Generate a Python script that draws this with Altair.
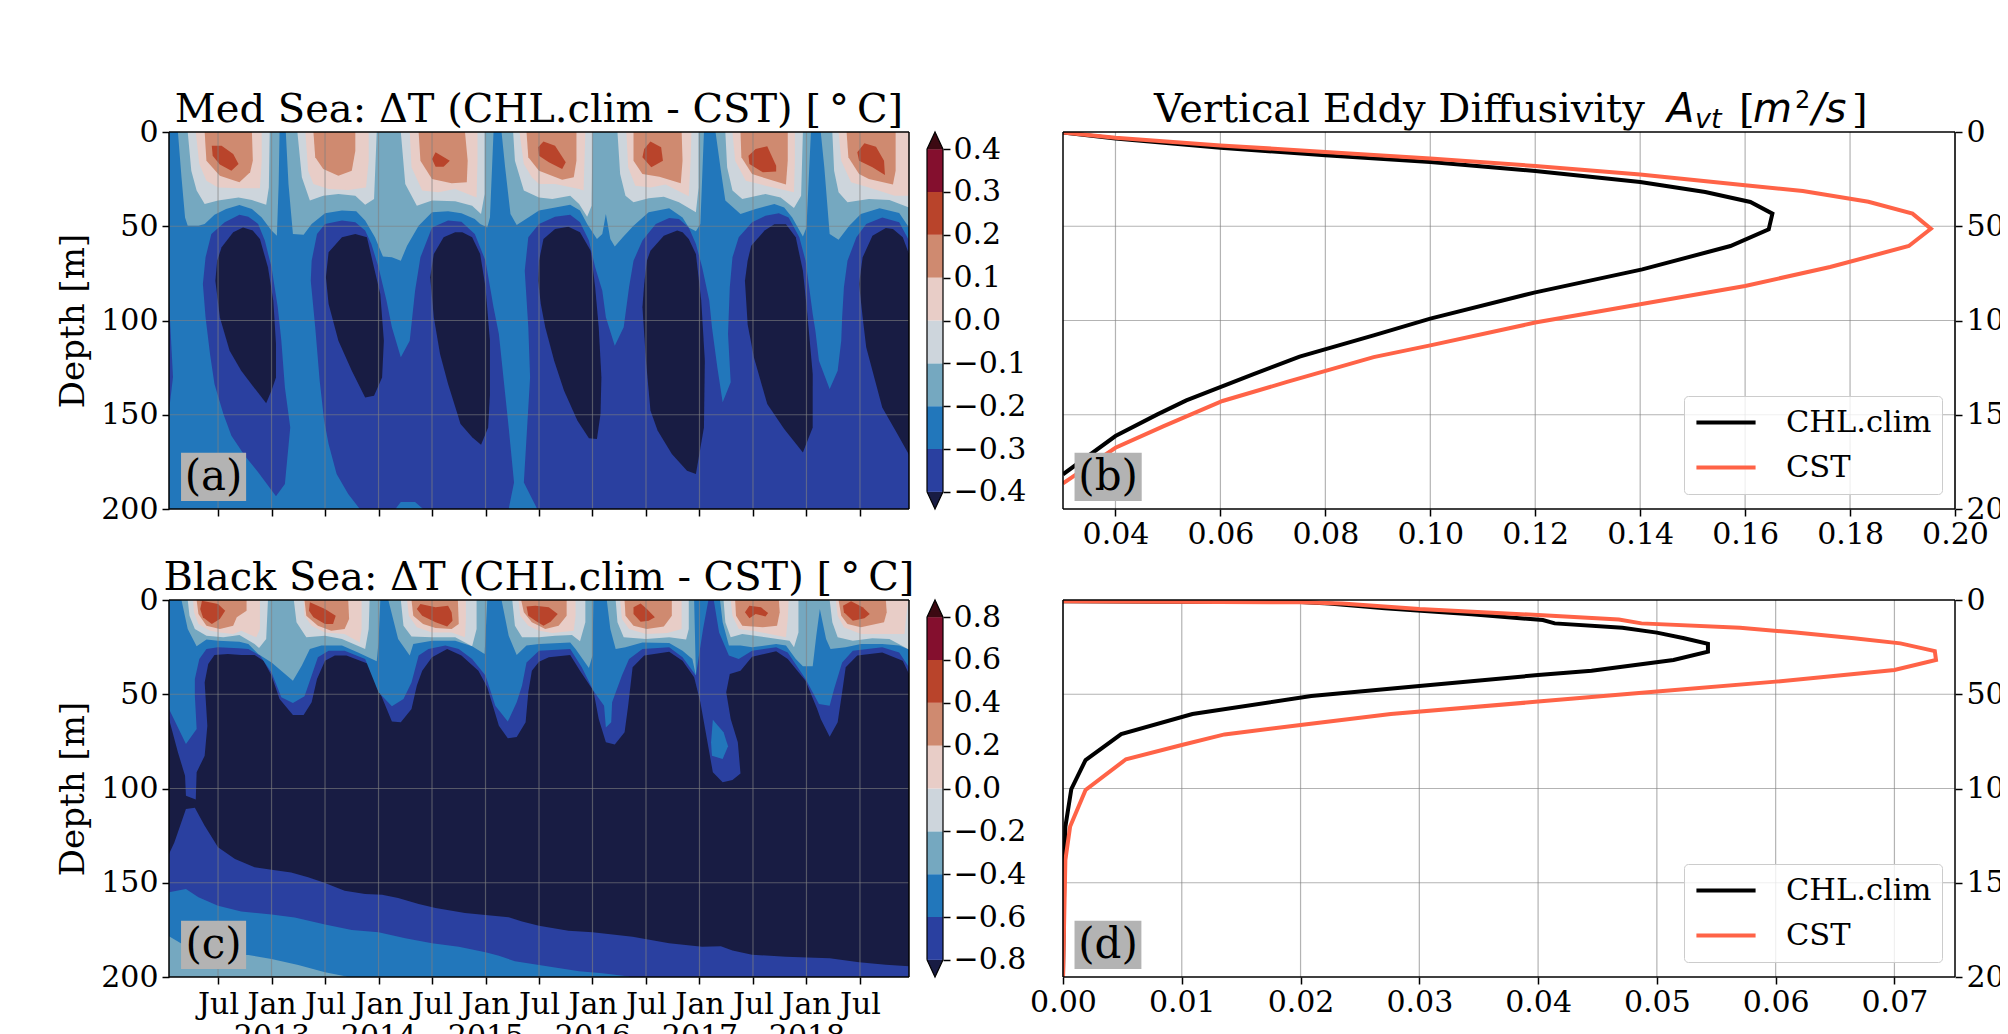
import altair as alt
import pandas as pd

SERIF = "DejaVu Serif"
MATH = "DejaVu Sans"
BANDS = ["b0", "b1", "b2", "b3", "b4", "b5", "b6", "b7", "b8", "b9"]
COLORS = ["#181c43", "#2a40a0", "#2277bb", "#75a8c0", "#cdd5dc", "#e8cdc7", "#cf8a70", "#b9442b", "#840f2e", "#3c0912"]

# Panel (a): contour regions as (months since Jan 2012, depth in m)
A_EDGE = [(0,89.5),(0.45,130),(0,148)]
A_DB1 = [(7.9,43.9),(6.25,47.9),(4.75,54.1),(4.1,66.5),(3.8,80.6),(4.1,98.3),(4.6,117.8),(5.1,133.7),(6.1,149.6),(7,161.1),(8.5,171.7),(10,180.5),(12,193.3),(13,186.7),(13.6,156.7),(13,135.5),(12.6,110.7),(12.2,93),(11.5,71.8),(10.75,57.6),(10,48.8),(8.9,44.9)]
A_DB2 = [(19.4,47),(17.5,48.8),(16.6,54.1),(16,68.3),(15.9,78.9),(16.4,103.6),(16.9,131.9),(17.4,153.1),(17.9,165.5),(18.8,181.4),(20.1,192),(21.4,200),(25.4,200),(26,196.3),(27.6,196.3),(28.5,200),(38.1,200),(38.7,185.9),(38.1,156.7),(37,107.2),(36.4,93),(35.5,68.3),(34.3,54.1),(32.8,47.6),(31.3,47),(29.5,50.6),(28.2,66.5),(27.6,84.2),(27,110.7),(26,119.5),(25,103.6),(24.4,89.5),(23.5,71.8),(22.7,59.4),(22,52.3),(20.9,47.9)]
A_DB3 = [(41.3,200),(39.8,185.9),(40.5,130.2),(40.3,103.6),(39.9,73.6),(40.3,55.9),(41.5,48.8),(43.3,44.9),(45,43.9),(46.1,47.9),(47.1,57.6),(47.8,71.8),(48.6,84.2),(49,98.3),(50,113.4),(51,103.6),(51.6,82.4),(52.1,68.3),(53.1,57.6),(54.6,48.8),(56.1,45.6),(57.2,46.2),(58.3,50.6),(59.1,59.4),(59.8,71.8),(60.6,89.5),(60.9,103.6),(61.5,124.8),(62.1,143.4),(63,132.8),(62.7,107.2),(62.9,82.4),(63.2,66.5),(63.9,55.9),(65.4,47.9),(66.9,44.4),(68.4,43.1),(69.5,45.3),(70.7,55.9),(71.4,68.3),(71.8,82.4),(72.2,96.6),(72.5,105.4),(72.9,121.3),(74.1,136.3),(75,126.6),(75.4,110.7),(75.5,98.3),(75.7,82.4),(76.1,68.3),(77.1,55.9),(78.2,48.8),(80,45.3),(81.9,47.9),(83,57.6),(83,200)]
A_N1 = [(8.3,50.6),(7.2,53.2),(5.9,61.2),(5.4,68.3),(5.2,78.9),(5.7,98.3),(6.8,116),(8.1,126.6),(9.8,137.2),(10.9,143.9),(11.5,137.2),(12,130.2),(12,112.5),(11.7,89.5),(11.1,71.8),(10.2,56.8),(9.4,52.3)]
A_N2 = [(20.9,54.1),(19.4,55.9),(17.9,63.8),(17.6,77.1),(17.9,91.2),(19,110.7),(20.5,126.6),(22,140.8),(23,139.9),(23.9,130.2),(24.1,110.7),(23.7,85.9),(22.9,70),(22.2,55.9)]
A_N3 = [(32.1,53.2),(30.8,55.9),(29.7,64.7),(29.3,77.1),(29.7,98.3),(30.4,117.8),(31.3,133.7),(32.7,154.9),(34,162),(35,165.9),(35.8,156.7),(36,139),(36,110.7),(35.5,82.4),(34.9,64.7),(34,55.9),(32.9,53.2)]
A_N4 = [(44.8,50.2),(43.3,51.5),(42,56.8),(41.5,68.3),(41.4,78.9),(41.7,91.2),(42.2,103.6),(43.2,121.3),(44.3,137.2),(45.8,153.1),(47.1,162.5),(48,162.9),(48.4,149.6),(48.5,130.2),(48.2,103.6),(47.8,82.4),(47.3,63),(46.1,53.2)]
A_N5 = [(57,52.3),(55.5,55),(54,63),(53.6,68.3),(53.3,80.6),(53.1,93),(53.5,121.3),(54,147.8),(54.8,158.4),(56.4,170.8),(58.1,179.7),(59.1,181.4),(60,156.7),(60.1,121.3),(59.7,89.5),(59.1,64.7),(58.3,56.8),(57.6,53.2)]
A_N6 = [(67.9,49),(66.8,52.3),(65.3,60.3),(64.9,68.3),(64.6,78.9),(64.9,102),(65.6,119.5),(67.1,144.3),(69,157.6),(71.1,170),(72.2,156.7),(72.2,128.4),(71.6,96.6),(71.1,73.6),(70.3,55.9),(69.2,49)]
A_N7 = [(80.4,50.9),(78.9,55),(77.8,66.5),(77.4,80.6),(77.8,98.3),(78.2,114.2),(80,146.1),(81.7,160.2),(83,171.2),(83,64.7),(82.3,55.9),(81.2,51.5)]
A_L1 = [(1,0),(1.4,24),(1.8,45.3),(2.1,49.7),(3.3,49.7),(4,48.8),(5.1,43.9),(6.4,40.8),(7.9,38.7),(9.3,40.8),(10.4,45.3),(11.5,52.3),(12.1,55),(12.3,27.6),(12.4,0)]
A_L2 = [(13.1,0),(13.4,27.6),(13.9,54.1),(15.1,54.5),(16,48.8),(17.5,43.1),(19.4,41.7),(21,42.1),(22,47),(23.1,55.9),(24,66.1),(25,66.5),(26,68.3),(26.7,60.3),(28,49.7),(29.5,42.6),(31.3,42.1),(32.8,43.1),(34.3,46.2),(34.9,48.8),(35.7,50.6),(36,45.3),(36.4,0)]
A_L3 = [(37.3,0),(37.7,18.7),(38.3,43.5),(39,49.3),(40.3,45.3),(41.5,41.7),(45,38.6),(46.1,41.7),(46.9,48.8),(48,56.8),(48.6,54.1),(49,43.5),(49.5,56.8),(50,60.8),(50.9,55.9),(52.1,49.7),(53.8,42.6),(56.1,40.5),(57.6,45.3),(58.3,50.6),(59.1,52.7),(59.6,48.8),(60,0)]
A_L4 = [(61.3,0),(61.9,20.5),(62.4,36.4),(64.1,43.5),(65.8,40.8),(67.9,38.2),(69,40),(69.9,45.3),(71.1,55.5),(71.5,50.6),(72,0)]
A_L5 = [(73.1,0),(73.5,18.7),(74.1,54.1),(75.1,57.1),(76.3,49.7),(77.6,43.5),(79.7,40.5),(81.9,43),(83,50.6),(83,0)]
A_G = [
 [(2.1,0),(2.5,20.5),(3.1,31.1),(4,38.2),(5.5,36.4),(7.8,34.7),(9.3,36.1),(10.9,38.6),(11.2,29.4),(11.3,0)],
 [(14.4,0),(14.9,24),(15.8,36.4),(17.3,33.8),(19,32.9),(20.9,33.8),(22,38.6),(23,35.5),(23.3,0)],
 [(26,0),(26.5,27.6),(27.8,39.1),(29.5,36.4),(32.1,36.8),(34,39.1),(35,43.5),(35.4,32.9),(35.4,0)],
 [(38.6,0),(38.8,15.2),(39.8,31.1),(41.5,34.7),(43,35.5),(45,33.8),(46,38.2),(46.9,44.9),(47.4,39.1),(47.5,0)],
 [(50.3,0),(50.6,22.3),(51.2,33.8),(52.1,37.3),(53.8,35.2),(55.5,34.3),(57.2,37.3),(59.1,42.6),(59.4,29.4),(59.4,0)],
 [(62.4,0),(62.6,18.7),(63.2,31.1),(64.3,35.5),(66.9,32.9),(68.6,34.7),(70.1,40.3),(70.9,33.8),(71.1,0)],
 [(74.4,0),(74.6,20.5),(75.1,32),(76.1,37.3),(78.5,35.5),(80.8,36.1),(83,40),(83,0)],
]
A_P = [
 [(3,0),(3.4,17),(4.2,25.8),(5.5,29.4),(7.9,29.9),(10.2,29.9),(10.4,15.2),(10.4,0)],
 [(15.3,0),(15.6,20.5),(16.2,27.6),(17.9,30.2),(20.1,30.8),(22.1,29.4),(22.4,15.2),(22.4,0)],
 [(27,0),(27.2,18.7),(28.4,31.1),(30.2,32),(32.1,30.2),(34.5,34.7),(34.6,15.2),(34.6,0)],
 [(39.3,0),(39.8,17),(40.7,24),(41.5,27.6),(43.3,27.6),(46,30.2),(46.5,31.1),(46.7,0)],
 [(51.3,0),(51.5,18.7),(52.3,28.5),(54,29.4),(55.7,27.9),(58.3,34.1),(58.5,15.2),(58.6,0)],
 [(63.2,0),(63.5,15.2),(64.7,25.8),(66.9,28.5),(70.1,32),(70.2,15.2),(70.2,0)],
 [(75.1,0),(75.4,15.2),(76.5,26.7),(78.5,29.4),(81.4,33.8),(83,33.8),(83,0)],
]
A_O = [
 [(4,0),(4.2,15.2),(5.7,23.2),(7.9,26.7),(9.1,21.4),(9.4,15.2),(9.3,0)],
 [(16.2,0),(16.4,13.4),(17.3,19.6),(19,23.2),(20.5,20.5),(20.9,9.9),(20.9,0)],
 [(28,0),(28.2,15.2),(29.5,24.9),(31.7,27.2),(33.4,26.7),(33.5,15.2),(33.2,0)],
 [(40.1,0),(40.3,13.4),(41.5,20.5),(44.1,25.3),(45.4,24),(45.7,15.2),(45.7,0)],
 [(52.1,0),(52.1,15.2),(53.1,22.3),(55,23.7),(57.4,27.2),(57.6,15.2),(57.5,0)],
 [(64.1,0),(64.2,13.4),(65.4,22.3),(69.2,27.9),(69.4,15.2),(69.4,0)],
 [(76,0),(76.2,13.4),(77.4,22.3),(78.5,24.9),(81.2,27.9),(81.5,20.5),(81.5,0)],
]
A_R = [
 [(4.8,7.3),(5.9,7.3),(7.2,11.7),(7.8,17),(7,20.5),(5.7,17.3),(4.9,12.6)],
 [(29.9,10.8),(31.5,15.2),(30.8,18.4),(29.9,18.4),(29.5,14.3)],
 [(42,5),(43.3,7.3),(44.5,16.1),(44.1,19.6),(42.6,16.1),(41.5,12.6),(41.4,8.1)],
 [(54,5),(55.2,8.1),(55.4,15.2),(54.1,18.7),(53.1,13.4),(53.3,9)],
 [(67.1,7.6),(68.1,17.9),(68.1,21),(66.6,21.4),(65.1,17),(65,12.6),(65.8,9)],
 [(78,6),(79.3,7.8),(80.2,15.2),(80.3,22.8),(78.9,18.7),(77.4,15.2),(77.2,10.8)],
]

# Panel (c)
C_DB_LOW = [(0,134.8),(0.6,128.6),(1.9,110.9),(2.9,110.2),(4,119.7),(5.5,131.2),(7.4,137.4),(9.6,141.8),(11.5,143.1),(13.7,144.5),(15.6,147.1),(17.5,150.1),(19.7,154.2),(22,156),(23.9,156.3),(25.7,158.1),(28,161.3),(29.9,163.4),(33.2,166),(35.5,167.1),(38.1,168.3),(39.6,170.6),(41.5,172.8),(44.8,175.4),(47.5,176.3),(52,178.6),(56.1,182.1),(59.8,183.9),(61.9,183.7),(63.2,186),(65.4,188.2),(69.2,189.2),(74.1,190.1),(77.4,192.2),(80.4,193.5),(83,194.3),(83,200),(0,200)]
C_BL_LOW = [(0,155.1),(1.9,153.3),(3.3,157.7),(5.5,162.2),(8.1,165.3),(11.5,166.9),(14.1,168.4),(17.5,172.2),(20.5,175.1),(23.5,176.3),(26.5,179.5),(29.5,182.1),(32.5,183.9),(35.5,186.9),(37,188.7),(38.8,191.7),(41.5,193.6),(46,197),(48.6,198),(51.6,199.8),(51.6,200),(0,200)]
C_LB_LOW = [(0,178.4),(1.8,183.4),(3.6,187.3),(6.3,188.2),(8.9,188.3),(11.5,190.4),(14.5,193.6),(17.5,197.5),(19.9,199.8),(19.9,200),(0,200)]
C_DB_TOP = [(0,0),(0,63.1),(1,80.8),(1.8,93.2),(1.9,103.8),(3,105.9),(3.1,91.4),(4,82.6),(4.3,66.7),(4,43.7),(4.4,34),(5.1,29.2),(6.6,28.6),(8.1,29.2),(9.6,29.2),(10.6,32.2),(11.5,40.1),(12.4,52.5),(13.9,61),(15.1,61),(16,54.3),(16.6,41.9),(17.5,32.2),(18.6,29.5),(19.9,29.5),(22.4,34),(23.5,47.2),(25,64.5),(26,64.9),(27.2,57.8),(27.8,45.4),(28.4,37.5),(29.5,30.4),(31.2,26),(32.8,29.5),(34.7,37.5),(35.7,46.3),(37,66.7),(38,73.4),(39,72.7),(40,64.9),(40.3,49),(40.7,37.5),(41.5,32.7),(42.6,30.4),(45,29.2),(46.1,37.5),(47.6,48.1),(48.2,63.1),(49,75.5),(50,76.7),(51.1,70.2),(51.5,56.1),(52,35.7),(53.3,29.5),(56.1,27.4),(57.6,32.2),(58.9,41),(59.6,54.3),(60.6,80.8),(61,91.4),(62.1,96.7),(63.2,95.5),(64.1,92),(63.8,75.5),(63,63.1),(62.5,49),(62.9,39.3),(64.1,37.5),(65.4,30.1),(68.1,27.2),(69.4,31.3),(71.4,42.8),(72.7,57.8),(73.1,63.1),(74.1,72.5),(75,64.9),(75.5,49),(75.9,35.7),(77.2,29.5),(80,27.8),(82.3,32.2),(83,39.3),(83,0)]
C_BL1 = [(0,0),(0,57.8),(1.9,76.4),(3.1,68.4),(2.9,50.8),(2.9,41.9),(3.4,31.3),(4.2,26),(5.5,25.1),(7.8,25.6),(8.9,26),(10.2,29.5),(11.5,38.4),(12.6,51.6),(13.9,54.6),(15.2,51.1),(16,40.1),(16.7,30.4),(17.9,26.9),(19.7,26.9),(22,31.3),(23.5,49),(25,56.4),(26.3,52.5),(27.2,43.7),(28,29.5),(29.1,26),(31,24.2),(32.5,26),(34,31.3),(35.5,40.1),(36.6,56.1),(38,64.5),(39,54.3),(39.6,45.4),(40.1,33.1),(41.5,26.9),(45,26),(46.3,35.7),(47.6,48.1),(48.8,56.1),(49,67.6),(49.6,64.9),(49.7,54.3),(50.8,40.1),(51.6,31.3),(53.1,26),(56.1,25.1),(57.6,30.4),(59.1,40.1),(59.9,15.4),(60.5,0)]
C_BL2 = [(61.1,0),(61.7,17.2),(62.8,29.5),(63.9,31.3),(65.4,26.9),(68.1,25.1),(69.4,27.8),(71.4,41.9),(72.9,55.2),(74.1,56.1),(74.6,47.2),(75.5,33.1),(76.7,26.9),(80,25.1),(81.9,27.8),(83,35.7),(83,0)]
C_ISLE = [(61,63.5),(62.2,70.2),(62.7,77.6),(62.1,84.4),(60.9,82.6),(60.8,75.5)]
C_L = [
 [(1.4,0),(2.1,15.4),(3.1,24.6),(4.2,21),(5.5,21.6),(7.9,22.1),(8.9,23.3),(10,28.6),(11.5,33.1),(13.9,42.8),(14.9,34.8),(15.8,26),(17.1,24.2),(19.4,24.2),(21.2,27.8),(23.3,32.5),(23.5,22.5),(23.7,0)],
 [(24.6,0),(25.7,20.7),(27,29.5),(27.4,23.3),(29.5,21.6),(32.1,21.6),(34,24.6),(35.4,28.6),(35.7,0)],
 [(37.3,0),(38.1,18.9),(39,29.2),(40.1,24.2),(41.5,23.3),(45,22.5),(45.6,26),(47.1,36.1),(47.5,29.5),(47.6,0)],
 [(49.1,0),(49.5,15.4),(50.1,26),(51.2,25.1),(53.1,22.5),(56.1,22.8),(57.6,26.9),(58.7,31.3),(59.1,40.1),(58.9,0)],
 [(61.8,0),(62.1,11.8),(62.8,24.2),(64.1,24.2),(65.4,25.1),(68.1,23.3),(69.2,24.2),(70.3,31.3),(71.1,35.2),(72.2,35.2),(72.6,18.9),(73,4.8),(73.7,20.7),(74.2,26),(75.9,25.1),(77.6,23.3),(80,23.3),(81.9,24.2),(83,26.3),(83,0)],
]
C_G = [
 [(2.1,0),(2.3,8.3),(2.9,15.4),(4.2,18.9),(6.1,19.8),(7.9,18.6),(9.6,23.3),(10.1,25.5),(10.9,20.7),(11.1,0)],
 [(14,0),(14.3,11.8),(15.4,19.8),(17.5,18.9),(19.4,20.7),(22,26),(22.4,15.4),(22.5,0)],
 [(26,0),(26.3,13.6),(27.2,19.3),(29.5,19.8),(32.1,19.8),(34,24.6),(34.5,15.4),(34.5,0)],
 [(38.5,0),(38.8,13.6),(39.6,19.8),(41.5,19.8),(43.3,18.9),(45.2,18.6),(46.1,21.9),(46.7,11.8),(46.7,0)],
 [(50.1,0),(50.3,11.8),(51,19.8),(53.5,20.7),(56.1,19.8),(58,21),(58.3,15.4),(58.3,0)],
 [(62.2,0),(62.4,11.8),(63,19.8),(64.3,18),(66.9,19.8),(69.6,21.6),(70.1,25.1),(70.6,17.2),(70.6,0)],
 [(74.1,0),(74.4,11.8),(75,19.8),(76.7,21.6),(78.9,20.3),(80.8,20.7),(83,26.3),(83,0)],
]
C_P = [
 [(2.7,0),(2.8,6.5),(3.3,12.7),(4.6,16.3),(5.7,17.2),(7.2,18),(8.1,16.3),(9.8,19.8),(10.2,15.4),(10.2,0)],
 [(15.1,0),(15.2,8.3),(16,13.6),(17.5,17.2),(19.7,18),(21.4,22.5),(21.6,15.4),(21.6,0)],
 [(26.7,0),(26.9,8.3),(27.8,14.5),(29.5,17.2),(31.7,17.2),(33.2,19.8),(33.3,10.1),(33.3,0)],
 [(39.2,0),(39.4,8.3),(40.3,13.6),(41.5,16.3),(43,17.5),(45.4,16.3),(45.6,8.3),(45.6,0)],
 [(50.6,0),(50.8,10.1),(51.6,15.4),(53.5,18),(55.9,17.5),(57.5,15.4),(57.5,0)],
 [(63,0),(63.2,8.3),(63.9,15.4),(65.8,16.6),(69.2,19.8),(69.4,10.1),(69.5,0)],
 [(74.8,0),(75,8.3),(75.7,14.5),(77.6,18),(80.4,18),(82.5,18),(82.7,8.3),(82.9,0)],
]
C_O = [
 [(3.1,0),(3.3,7.4),(4.2,13.6),(5.7,15.4),(7.2,13.6),(7.6,9.2),(8.7,5.7),(8.7,0)],
 [(15.2,0),(15.4,8.3),(16.7,13.6),(18.2,16.3),(19.7,15.4),(20.2,10.1),(20.1,0)],
 [(27.2,0),(27.4,8.3),(28.5,12.7),(29.9,14.9),(31.7,15.4),(32.5,12.7),(32.4,0)],
 [(39.5,0),(39.8,6.5),(40.7,11.8),(41.5,13.6),(42.2,15.4),(43.7,13.6),(44.6,8.3),(44.6,0)],
 [(51.1,0),(51.2,8.3),(52.1,13.6),(53.6,15.4),(55.5,14.1),(56.4,8.3),(56.4,0)],
 [(63.5,0),(63.6,8.3),(64.3,13.6),(66.6,14.5),(68.2,13.6),(68.5,6.5),(68.4,0)],
 [(75.1,0),(75.4,8.3),(76.1,12.7),(77.6,14.5),(80.2,11.8),(80.5,6.5),(80.4,0)],
]
C_R = [
 [(3.7,0.4),(5.5,2.1),(6.3,5.7),(5.7,10.1),(4.8,12.7),(3.8,9.2),(3.5,4.8)],
 [(15.8,1.2),(17.5,4.8),(18.7,8.3),(18.4,12.7),(17.5,12.7),(16.2,9.2),(15.7,5.7)],
 [(28.2,2.1),(29.9,3.9),(31.3,3),(31.7,6.5),(31.8,11),(31.2,14),(29.9,11.8),(28.4,8.3),(27.8,4.8)],
 [(40.1,3.4),(41.1,3),(42.6,3.9),(43.6,7.4),(42.8,11.5),(42,13.6),(41.1,11),(40.3,8.3)],
 [(52.9,1.8),(53.6,4.8),(54.5,9.2),(53.8,11),(52.9,11.5),(52.1,7.4),(52.1,3.9)],
 [(65.1,3),(66.4,3.9),(67.2,6.9),(66.9,8.7),(65.8,7.4),(65.1,9.7),(64.6,6.5)],
 [(76.5,0.7),(77.8,3.9),(78.6,7.4),(78,9.7),(76.7,11),(75.7,6.5),(75.6,3)],
]
FULL = [(0,0),(83,0),(83,200),(0,200)]

# Line profiles: (diffusivity, depth)
B_CHL = [(0.03,0.3),(0.04,3.5),(0.06,8.3),(0.08,12.4),(0.1,15.9),(0.12,20.7),(0.14,26.5),(0.1524,31.8),(0.161,37.1),(0.1652,43.3),(0.1645,51.6),(0.1572,60.5),(0.1404,72.9),(0.1198,85.2),(0.1,99),(0.0892,107.9),(0.0751,119.2),(0.0662,128.6),(0.0535,142.4),(0.048,149.8),(0.04,161.3),(0.03,181.6)]
B_CST = [(0.03,0.3),(0.04,3),(0.06,7.1),(0.08,10.6),(0.1,14.1),(0.12,18),(0.14,22.5),(0.16,28.3),(0.171,31.3),(0.1835,37),(0.1919,43.3),(0.1954,51.3),(0.1912,60.5),(0.1762,71.6),(0.16,81.7),(0.14,91.4),(0.12,101.1),(0.1,113.2),(0.0892,119.4),(0.0727,132.6),(0.0604,142.7),(0.0492,156),(0.04,167.5),(0.03,186.4)]
D_CHL = [(0,0.7),(0.01,0.9),(0.02,1),(0.0224,1.8),(0.0271,4.4),(0.0344,7.6),(0.0404,10.6),(0.0414,12.4),(0.0471,14.7),(0.05,17.3),(0.0523,20.3),(0.0543,23.3),(0.0543,27.4),(0.0514,31.8),(0.0445,37.5),(0.04,39.8),(0.03,45.6),(0.0209,50.9),(0.0109,60.5),(0.0049,71.1),(0.0019,84.9),(0.0007,100.3),(0.0002,120.2),(0.0001,150.3),(0,200)]
D_CST = [(0,0.7),(0.02,1.2),(0.0235,1.8),(0.03,4.8),(0.04,8),(0.0468,10.3),(0.0487,12.4),(0.057,14.7),(0.0617,17.3),(0.0666,20.3),(0.0705,23),(0.0734,27.1),(0.0735,31.8),(0.07,37.1),(0.06,43.3),(0.05,48.6),(0.04,53.9),(0.0276,60.5),(0.02,66.3),(0.0136,71.3),(0.01,76.9),(0.0053,84.5),(0.0019,100.8),(0.0006,120.2),(0.0002,137.9),(0,200)]

MONTH_TICKS = [5.5, 11.5, 17.5, 23.5, 29.5, 35.5, 41.5, 47.5, 53.5, 59.5, 65.5, 71.5, 77.5]
DEPTH_TICKS = [0, 50, 100, 150, 200]
B_TICKS = [0.04, 0.06, 0.08, 0.10, 0.12, 0.14, 0.16, 0.18, 0.20]
D_TICKS = [0.0, 0.01, 0.02, 0.03, 0.04, 0.05, 0.06, 0.07]
A_LEVELS = [-0.4, -0.3, -0.2, -0.1, 0.0, 0.1, 0.2, 0.3, 0.4]
C_LEVELS = [-0.8, -0.6, -0.4, -0.2, 0.0, 0.2, 0.4, 0.6, 0.8]

A_POLYS = [(2, [FULL]), (1, [A_EDGE, A_DB1, A_DB2, A_DB3]), (0, [A_N1, A_N2, A_N3, A_N4, A_N5, A_N6, A_N7]),
           (3, [A_L1, A_L2, A_L3, A_L4, A_L5]), (4, A_G), (5, A_P), (6, A_O), (7, A_R)]
C_POLYS = [(0, [FULL]), (1, [C_DB_LOW]), (2, [C_BL_LOW]), (3, [C_LB_LOW]), (1, [C_DB_TOP]), (2, [C_BL1, C_BL2, C_ISLE]),
           (3, C_L), (4, C_G), (5, C_P), (6, C_O), (7, C_R)]

W_MAIN, W_CB, W_GAP, W_PROF, H = 740, 16, 84, 892, 377
LABEL = 30
TITLE = 40
GRID = dict(color="#808080", opacity=0.6, strokeWidth=1.2)
FILL = alt.Scale(domain=BANDS, range=COLORS)


def poly_frame(groups):
    rows = []
    pid = 0
    for band, polys in groups:
        for pts in polys:
            pid += 1
            for i, (a, b) in enumerate(pts):
                rows.append({"poly": pid, "i": i, "m": a, "d": b, "band": BANDS[band]})
    return pd.DataFrame(rows)


def spines(xf, yf, xdom, ydom):
    v = alt.Chart(pd.DataFrame({xf: xdom})).mark_rule(color="black", strokeWidth=1.5).encode(x=alt.X(f"{xf}:Q"))
    h = alt.Chart(pd.DataFrame({yf: ydom})).mark_rule(color="black", strokeWidth=1.5).encode(y=alt.Y(f"{yf}:Q"))
    return [v, h]


def label_box(tag, x0, x1, xf):
    box = pd.DataFrame({xf: [x0], "x2": [x1], "d": [170.2], "d2": [195.8]})
    r = alt.Chart(box).mark_rect(color="#b3b3b3").encode(x=alt.X(f"{xf}:Q"), x2="x2:Q", y=alt.Y("d:Q"), y2="d2:Q")
    txt = pd.DataFrame({xf: [(x0 + x1) / 2], "d": [183.0], "t": [tag]})
    t = alt.Chart(txt).mark_text(font=SERIF, fontSize=42, color="black", baseline="middle").encode(
        x=alt.X(f"{xf}:Q"), y=alt.Y("d:Q"), text="t:N")
    return [r, t]


def contour_panel(groups, title, tag, show_x):
    df = poly_frame(groups)
    x_axis = alt.Axis(
        values=MONTH_TICKS, title=None, grid=False, domain=False, tickSize=7, tickWidth=1.5, tickColor="black",
        labels=show_x, labelFont=SERIF, labelFontSize=LABEL, labelColor="black", labelAngle=0, labelPadding=5,
        labelLineHeight=32, labelOverlap=False, labelBaseline="top",
        labelExpr="(datum.value-5.5)%12==0 ? 'Jul' : ['Jan', '' + (2013+(datum.value-11.5)/12)]",
    )
    y_axis = alt.Axis(
        values=DEPTH_TICKS, title="Depth [m]", grid=False, domain=False, tickSize=7, tickWidth=1.5, tickColor="black",
        labelFont=SERIF, labelFontSize=LABEL, labelColor="black", labelPadding=4,
        titleFont=SERIF, titleFontSize=34, titleFontWeight="normal", titleColor="black", titlePadding=10,
    )
    base = alt.Chart(df).mark_line(strokeWidth=0, clip=True).encode(
        x=alt.X("m:Q", scale=alt.Scale(domain=[0, 83], nice=False, zero=False), axis=x_axis),
        y=alt.Y("d:Q", scale=alt.Scale(domain=[200, 0], nice=False, zero=False), axis=y_axis),
        detail="poly:N", order="i:Q",
        fill=alt.Fill("band:N", scale=FILL, legend=None),
    )
    vg = alt.Chart(pd.DataFrame({"m": MONTH_TICKS})).mark_rule(**GRID).encode(x=alt.X("m:Q"))
    hg = alt.Chart(pd.DataFrame({"d": DEPTH_TICKS[1:-1]})).mark_rule(**GRID).encode(y=alt.Y("d:Q"))
    layers = [base, vg, hg] + label_box(tag, 1.35, 8.65, "m") + spines("m", "d", [0, 83], [0, 200])
    return alt.layer(*layers).properties(
        width=W_MAIN, height=H,
        title=alt.TitleParams(title, font=SERIF, fontSize=TITLE, fontWeight="normal", color="black", offset=-13),
    )


def colorbar(levels):
    step = levels[1] - levels[0]
    ext = 0.4 * step
    lo, hi = levels[0], levels[-1]
    groups = [(0, [[(0, lo), (0.5, lo - ext), (1, lo)]])]
    for i in range(len(levels) - 1):
        a, b = levels[i], levels[i + 1]
        groups.append((i + 1, [[(0, a), (1, a), (1, b), (0, b)]]))
    groups.append((9, [[(0, hi), (0.5, hi + ext), (1, hi)]]))
    df = poly_frame(groups)
    ydom = [lo - ext, hi + ext]
    base = alt.Chart(df).mark_line(strokeWidth=0).encode(
        x=alt.X("m:Q", scale=alt.Scale(domain=[0, 1], nice=False, zero=False), axis=None),
        y=alt.Y("d:Q", scale=alt.Scale(domain=ydom, nice=False, zero=False),
                axis=alt.Axis(values=levels, orient="right", format=".1f", title=None, grid=False, domain=False,
                              tickSize=7, tickWidth=1.5, tickColor="black", labelFont=SERIF, labelFontSize=LABEL,
                              labelColor="black", labelPadding=3)),
        detail="poly:N", order="i:Q",
        fill=alt.Fill("band:N", scale=FILL, legend=None),
    )
    outline = pd.DataFrame({
        "m": [0, 0.5, 1, 1, 0.5, 0, 0],
        "d": [lo, lo - ext, lo, hi, hi + ext, hi, lo],
        "i": list(range(7)),
    })
    ol = alt.Chart(outline).mark_line(color="black", strokeWidth=1.2).encode(
        x=alt.X("m:Q"), y=alt.Y("d:Q"), order="i:Q")
    return alt.layer(base, ol).properties(width=W_CB, height=H)


def profile_panel(chl, cst, xdom, ticks, fmt, tag, box):
    rows = []
    for name, series in (("CHL.clim", chl), ("CST", cst)):
        for i, (v, d) in enumerate(series):
            rows.append({"v": v, "d": d, "i": i, "s": name})
    df = pd.DataFrame(rows)
    grid = dict(GRID)
    vg = alt.Chart(pd.DataFrame({"v": ticks})).mark_rule(**grid).encode(x=alt.X("v:Q"))
    hg = alt.Chart(pd.DataFrame({"d": DEPTH_TICKS[1:-1]})).mark_rule(**grid).encode(y=alt.Y("d:Q"))
    lines = alt.Chart(df).mark_line(strokeWidth=4, clip=True, strokeJoin="miter").encode(
        x=alt.X("v:Q", scale=alt.Scale(domain=xdom, nice=False, zero=False),
                axis=alt.Axis(values=ticks, format=fmt, title=None, grid=False, domain=False, tickSize=7, tickWidth=1.5,
                              tickColor="black", labelFont=SERIF, labelFontSize=LABEL, labelColor="black",
                              labelPadding=3, labelOverlap=False, labelFlush=False)),
        y=alt.Y("d:Q", scale=alt.Scale(domain=[200, 0], nice=False, zero=False),
                axis=alt.Axis(values=DEPTH_TICKS, orient="right", title=None, grid=False, domain=False, tickSize=7,
                              tickWidth=1.5, tickColor="black", labelFont=SERIF, labelFontSize=LABEL,
                              labelColor="black", labelPadding=4)),
        order="i:Q",
        color=alt.Color("s:N", scale=alt.Scale(domain=["CHL.clim", "CST"], range=["black", "#ff6347"]),
                        legend=alt.Legend(orient="none", legendX=621, legendY=264, title=None, labelFont=SERIF,
                                          labelFontSize=30.5, labelLimit=300, labelColor="black", symbolType="stroke",
                                          symbolSize=3500, symbolStrokeWidth=4, fillColor="rgba(255,255,255,0.8)",
                                          strokeColor="#cccccc", cornerRadius=4, padding=10, rowPadding=12,
                                          labelOffset=28, clipHeight=33)),
    )
    layers = [vg, hg, lines] + label_box(tag, box[0], box[1], "v") + spines("v", "d", xdom, [0, 200])
    return alt.layer(*layers).properties(width=W_PROF, height=H)


def math_piece(text, px, py, size, font=MATH, style="italic"):
    return alt.Chart(pd.DataFrame({"t": [text]})).mark_text(
        font=font, fontSize=size, fontStyle=style, align="left", baseline="alphabetic", color="black").encode(
        x=alt.value(px), y=alt.value(py), text="t:N")


MED = "Med Sea: \u0394T (CHL.clim - CST) [\u2009\u00b0\u2009C]"
BLK = "Black Sea: \u0394T (CHL.clim - CST) [\u2009\u00b0\u2009C]"
panel_a = contour_panel(A_POLYS, MED, "(a)", False)
panel_c = contour_panel(C_POLYS, BLK, "(c)", True)
cb_a = colorbar(A_LEVELS)
cb_c = colorbar(C_LEVELS)
panel_b = profile_panel(B_CHL, B_CST, [0.03, 0.20], B_TICKS, ".2f", "(b)", (0.0322, 0.045))
panel_d = profile_panel(D_CHL, D_CST, [0.0, 0.0751], D_TICKS, ".2f", "(d)", (0.00097, 0.0066))
panel_b = alt.layer(
    panel_b,
    math_piece("Vertical Eddy Diffusivity", 91, -10, TITLE, SERIF, "normal"),
    math_piece("A", 604, -10, TITLE),
    math_piece("vt", 632, -4, 27),
    math_piece("[", 676, -10, TITLE, SERIF, "normal"),
    math_piece("m", 690, -10, TITLE),
    math_piece("2", 732, -24, 24, MATH, "normal"),
    math_piece("/s", 749, -10, TITLE),
    math_piece("]", 789, -10, TITLE, SERIF, "normal"),
).properties(width=W_PROF, height=H)


def spacer():
    return alt.Chart(pd.DataFrame({"a": [0]})).mark_point(opacity=0).encode(
        x=alt.value(0), y=alt.value(0)).properties(width=W_GAP, height=H)


chart = alt.concat(panel_a, cb_a, spacer(), panel_b, panel_c, cb_c, spacer(), panel_d, columns=4).properties(
    bounds="flush", spacing={"row": 91, "column": 18},
    autosize=alt.AutoSizeParams(type="none"),
    padding={"left": 161, "top": 124, "right": 1831, "bottom": 902},
).resolve_scale(color="independent").resolve_legend(color="independent").configure_view(stroke=None)

chart.save("out.html", embed_options={"renderer": "svg", "actions": False})
